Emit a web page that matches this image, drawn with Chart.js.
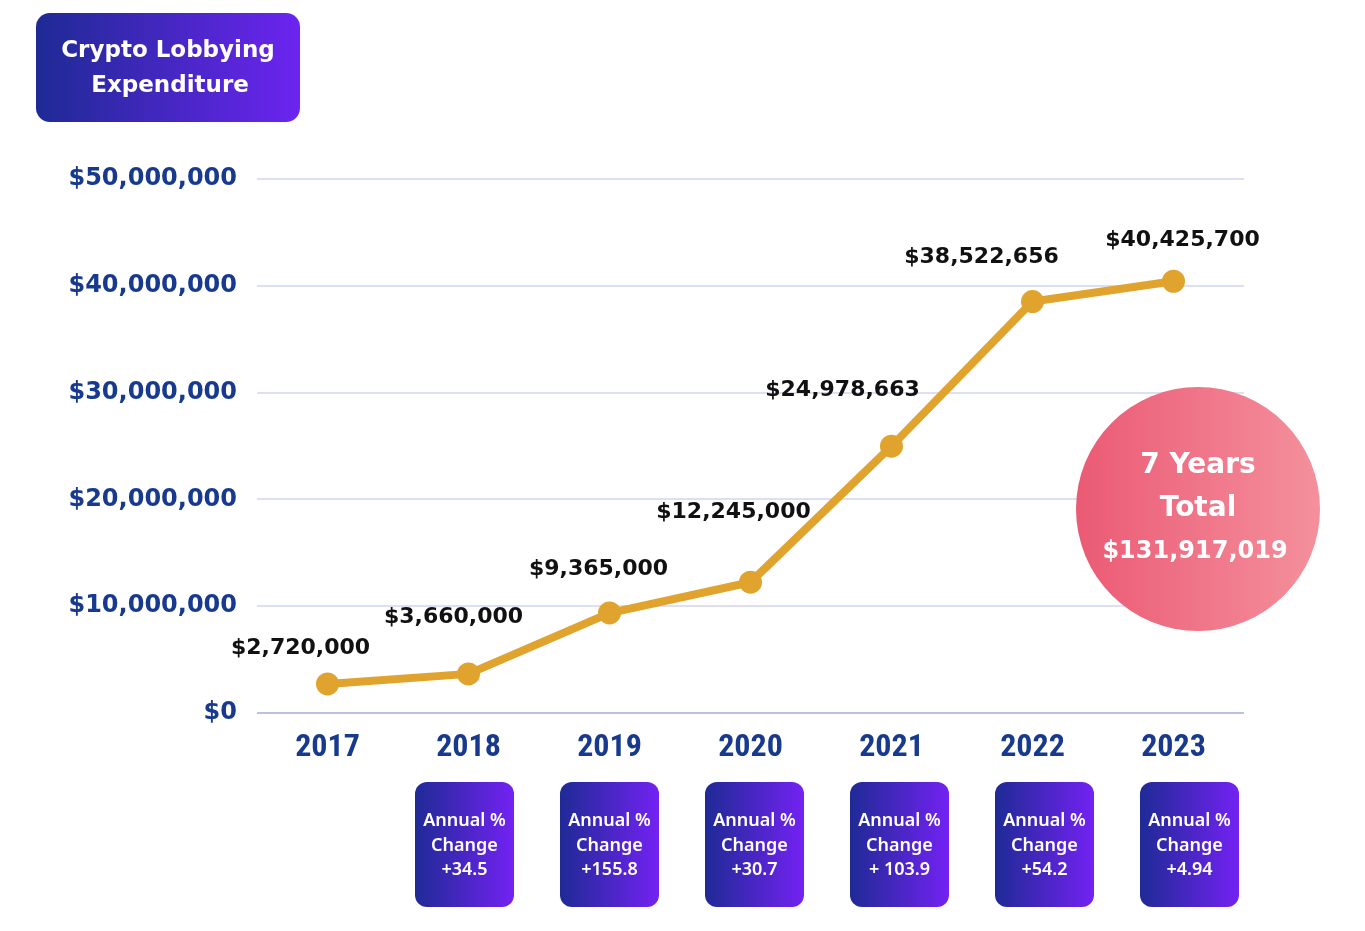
<!DOCTYPE html>
<html>
<head>
<meta charset="utf-8">
<title>Crypto Lobbying Expenditure</title>
<script src="https://cdn.jsdelivr.net/npm/chart.js@4.4.1/dist/chart.umd.min.js"></script>
<style>
  html, body { margin: 0; padding: 0; background: #ffffff; }
  #wrap { width: 1365px; height: 931px; }
</style>
</head>
<body>
<div id="wrap"><canvas id="grafico" width="1365" height="931"></canvas></div>
<script>
// dados do gráfico
const anos = ['2017', '2018', '2019', '2020', '2021', '2022', '2023'];
const gastos = [2720000, 3660000, 9365000, 12245000, 24978663, 38522656, 40425700];
const variacaoAnual = [null, '+34.5', '+155.8', '+30.7', '+ 103.9', '+54.2', '+4.94'];
const yTicks = [0, 10000000, 20000000, 30000000, 40000000, 50000000];
const tituloLinhas = ['Crypto Lobbying', 'Expenditure'];
const totalLinhas = ['7 Years', 'Total', '$131,917,019'];

// deslocamento dos rótulos (px) em relação ao ponto
const rotuloOffset = [[-27, -36], [-15, -57], [-11, -44], [-17, -70], [-49, -56], [-51, -44], [9, -41]];

const azul = '#173a8e';

function formatarDolar(v) {
    return '$' + Number(v).toLocaleString('en-US');
}

function caixaArredondada(ctx, x, y, w, h, r) {
    ctx.beginPath();
    ctx.moveTo(x + r, y);
    ctx.arcTo(x + w, y, x + w, y + h, r);
    ctx.arcTo(x + w, y + h, x, y + h, r);
    ctx.arcTo(x, y + h, x, y, r);
    ctx.arcTo(x, y, x + w, y, r);
    ctx.closePath();
}

function gradienteRoxo(ctx, x, w, c1, c2) {
    let g = ctx.createLinearGradient(x, 0, x + w, 0);
    g.addColorStop(0, c1);
    g.addColorStop(1, c2);
    return g;
}

// rótulos de valor acima dos pontos
const rotulosPlugin = {
    id: 'rotulos',
    afterDatasetsDraw(chart) {
        const ctx = chart.ctx;
        const meta = chart.getDatasetMeta(0);
        ctx.save();
        ctx.font = 'bold 22px "DejaVu Sans", sans-serif';
        ctx.fillStyle = '#111111';
        ctx.textAlign = 'center';
        ctx.textBaseline = 'middle';
        meta.data.forEach((pt, i) => {
            const off = rotuloOffset[i];
            ctx.fillText(formatarDolar(gastos[i]), pt.x + off[0], pt.y + off[1]);
        });
        ctx.restore();
    }
};

// título, círculo do total e caixas de variação anual
const decoracaoPlugin = {
    id: 'decoracao',
    afterDraw(chart) {
        const ctx = chart.ctx;
        ctx.save();

        // título
        caixaArredondada(ctx, 36, 13, 264, 109, 14);
        ctx.fillStyle = gradienteRoxo(ctx, 36, 264, '#1e2a94', '#6c24f0');
        ctx.fill();
        ctx.fillStyle = '#ffffff';
        ctx.textAlign = 'center';
        ctx.textBaseline = 'middle';
        ctx.font = 'bold 23px "DejaVu Sans", sans-serif';
        ctx.fillText(tituloLinhas[0], 168, 51);
        ctx.fillText(tituloLinhas[1], 170, 86);

        // círculo do total
        ctx.beginPath();
        ctx.arc(1198, 509, 122, 0, Math.PI * 2);
        ctx.fillStyle = gradienteRoxo(ctx, 1076, 244, '#eb5a74', '#f4909c');
        ctx.fill();
        ctx.fillStyle = '#ffffff';
        ctx.font = 'bold 28px "DejaVu Sans", sans-serif';
        ctx.fillText(totalLinhas[0], 1198, 466);
        ctx.fillText(totalLinhas[1], 1198, 509);
        ctx.font = 'bold 24px "DejaVu Sans", sans-serif';
        ctx.fillText(totalLinhas[2], 1195, 552);

        // caixas de variação anual
        const boxW = 99, boxH = 125, boxTop = 782, boxStep = 145, boxLeft0 = 415;
        variacaoAnual.forEach((txt, i) => {
            if (txt === null) return;
            const x = boxLeft0 + (i - 1) * boxStep;
            caixaArredondada(ctx, x, boxTop, boxW, boxH, 12);
            ctx.fillStyle = gradienteRoxo(ctx, x, boxW, '#1f2a96', '#7322f2');
            ctx.fill();
            ctx.fillStyle = '#ffffff';
            ctx.font = '600 18px "Noto Sans", sans-serif';
            const cx = x + boxW / 2;
            ctx.fillText('Annual %', cx, 821);
            ctx.fillText('Change', cx, 846);
            ctx.fillText(txt, cx, 870);
        });

        ctx.restore();
    }
};

function gerarGrafico() {
    const config = {
        type: 'line',
        data: {
            labels: anos,
            datasets: [{
                data: gastos,
                borderColor: '#e0a42e',
                backgroundColor: '#e0a42e',
                borderWidth: 8,
                pointRadius: 11.5,
                pointHoverRadius: 11.5,
                pointBorderWidth: 0,
                tension: 0
            }]
        },
        options: {
            responsive: false,
            animation: false,
            layout: { padding: { left: 0, top: 179, right: 121, bottom: 0 } },
            plugins: {
                legend: { display: false },
                tooltip: { enabled: false }
            },
            scales: {
                x: {
                    offset: true,
                    grid: { display: false, drawTicks: false },
                    border: { display: false },
                    ticks: {
                        color: azul,
                        padding: 16,
                        font: { family: '"Liberation Sans Narrow", "Roboto Condensed", Roboto, sans-serif', size: 32, weight: 'bold' }
                    },
                    afterFit: scale => { scale.height = 218; }
                },
                y: {
                    min: 0,
                    max: 50000000,
                    afterBuildTicks: scale => {
                        scale.ticks = yTicks.map(v => ({ value: v }));
                    },
                    grid: {
                        drawTicks: false,
                        lineWidth: 2,
                        color: c => c.tick && c.tick.value === 0 ? '#b9c2e2' : '#dde0f4'
                    },
                    border: { display: false },
                    ticks: {
                        color: azul,
                        padding: 20,
                        font: { family: '"DejaVu Sans", sans-serif', size: 24, weight: 'bold', lineHeight: 1.05 },
                        callback: v => formatarDolar(v)
                    },
                    afterFit: scale => { scale.width = 257; }
                }
            }
        },
        plugins: [rotulosPlugin, decoracaoPlugin]
    };

    let ctx = document.getElementById('grafico').getContext('2d');
    window.grafico = new Chart(ctx, config);
}

gerarGrafico();
</script>
</body>
</html>
